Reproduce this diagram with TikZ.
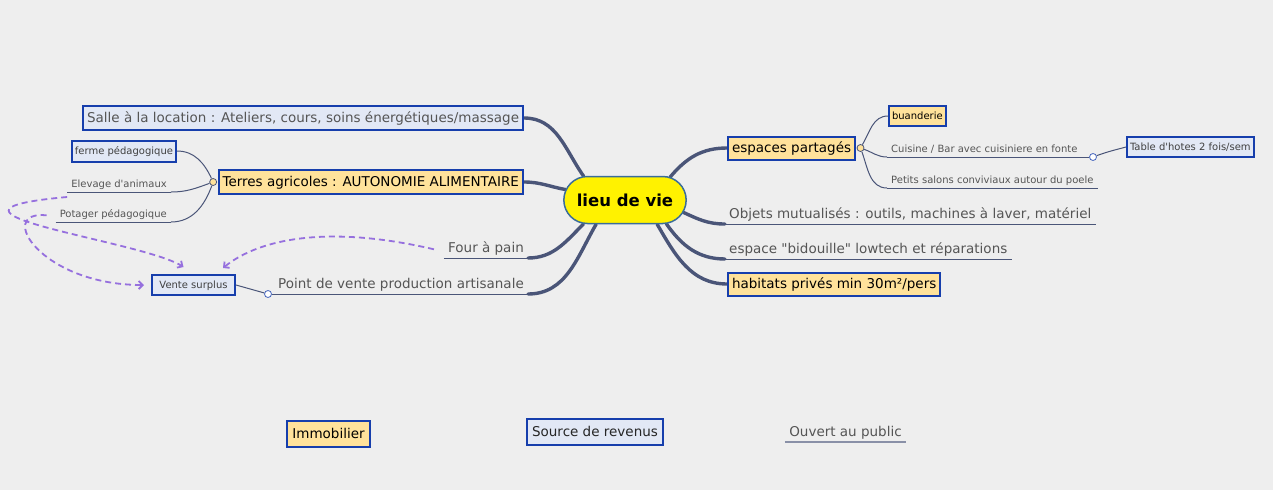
\documentclass[tikz,border=0pt]{standalone}
\usepackage{fontspec}
\usepackage{tikz}
\usetikzlibrary{positioning,shapes.misc,arrows.meta}
\newfontfamily\mapfont{DejaVu Sans}
\newcommand{\bigtxt}{\mapfont\fontsize{13.5}{15}\selectfont}
\newcommand{\smalltxt}{\mapfont\fontsize{10}{12}\selectfont}
\definecolor{bgcol}{RGB}{238,238,238}
\definecolor{branchcol}{RGB}{74,85,120}
\definecolor{boxblue}{RGB}{22,62,172}
\definecolor{revfill}{RGB}{226,232,245}
\definecolor{immofill}{RGB}{255,226,155}
\definecolor{topicgray}{RGB}{85,85,85}
\definecolor{linkpurple}{RGB}{150,112,222}
\definecolor{centreedge}{RGB}{58,109,154}
\pgfdeclarelayer{background}
\pgfsetlayers{background,main}
\tikzset{
  every node/.style={font=\mapfont},
  centre/.style={rounded rectangle, draw=centreedge, line width=1.5pt,
    fill=yellow, minimum width=129pt, minimum height=47pt,
    font=\mapfont\bfseries\fontsize{16.5}{20}\selectfont},
  revbox/.style={draw=boxblue, line width=2pt, fill=revfill,
    inner xsep=4pt, inner ysep=0pt, minimum height=24pt,
    text height=11pt, text depth=3pt, font=\bigtxt, text=topicgray},
  immobox/.style={revbox, fill=immofill, minimum height=23pt, text=black},
  smallbox/.style={minimum height=20pt, inner xsep=3pt,
    text height=8.5pt, text depth=2pt, font=\smalltxt},
  topic/.style={inner xsep=4pt, inner ysep=2pt, text height=10pt,
    text depth=3pt, font=\bigtxt, text=topicgray},
  subtopic/.style={inner xsep=4pt, inner ysep=2pt, text height=7pt,
    text depth=2pt, font=\smalltxt, text=topicgray},
  underline/.style={draw=branchcol, line width=1pt},
  branch/.style={draw=branchcol, line width=3.4pt, line cap=round},
  twig/.style={draw=branchcol, line width=1pt},
  knot/.style={circle, draw=branchcol, line width=0.8pt, fill=immofill,
    minimum size=7pt, inner sep=0pt},
  linkknot/.style={knot, draw=boxblue!80, fill=white},
  link/.style={draw=linkpurple, line width=1.8pt,
    dash pattern=on 6pt off 4pt,
    -{Straight Barb[length=4pt,width=8pt]}}
}

\begin{document}
\begin{tikzpicture}[x=1pt,y=1pt]
  \useasboundingbox (0,0) rectangle (1273,-490);
  % centre
  \node[centre] (vie) at (625,-200) {lieu de vie};
  % left side
  \node[revbox, anchor=east] (salle) at (524,-118)
    {Salle à la location : Ateliers, cours, soins énergétiques/massage};
  \node[immobox, anchor=east, minimum height=24pt] (terres) at (524,-182)
    {Terres agricoles : AUTONOMIE ALIMENTAIRE};
  \node[topic, anchor=south east] (four) at (528,-258) {Four à pain};
  \node[topic, anchor=south east] (pdv) at (528,-294)
    {Point de vente production artisanale};
  % right side
  \node[immobox, anchor=west] (espaces) at (727,-148) {espaces partagés};
  \node[topic, anchor=south west] (objets) at (725,-224)
    {Objets mutualisés : outils, machines à laver, matériel};
  \node[topic, anchor=south west] (bidouille) at (725,-259)
    {espace "bidouille" lowtech et réparations};
  \node[immobox, anchor=west] (habitats) at (727,-284)
    {habitats privés min 30m²/pers};
  % terres agricoles
  \node[knot, left=0.5pt of terres] (knotT) {};
  \node[revbox, smallbox, anchor=east, minimum height=21pt, text=black!75]
    (ferme) at (177,-151) {ferme pédagogique};
  \node[subtopic, anchor=south east] (elevage) at (171,-192)
    {Elevage d'animaux};
  \node[subtopic, anchor=south east] (potager) at (171,-222)
    {Potager pédagogique};
  % vente
  \node[linkknot] (knotP) at (268,-294) {};
  \node[revbox, smallbox, minimum width=83pt, text=black!75] (vente)
    at (193.5,-285) {Vente surplus};
  % espaces partages
  \node[knot, right=0.5pt of espaces] (knotE) {};
  \node[immobox, smallbox, anchor=west] (buand) at (888,-116) {buanderie};
  \node[subtopic, anchor=south west] (cuisine) at (887,-157)
    {Cuisine / Bar avec cuisiniere en fonte};
  \node[linkknot] (knotC) at (1093,-157) {};
  \node[revbox, smallbox, anchor=west, text=black!75] (table)
    at (1126,-147) {Table d'hotes 2 fois/sem};
  \node[subtopic, anchor=south west] (petits) at (887,-188)
    {Petits salons conviviaux autour du poele};
  % legend
  \node[immobox, minimum width=83pt, minimum height=26pt] (immo)
    at (328.5,-434) {Immobilier};
  \node[revbox, minimum width=136pt, minimum height=26pt, text=black!85]
    (revenus) at (595,-432) {Source de revenus};
  \node[topic, anchor=south, minimum width=121pt] (public)
    at (845.5,-442) {Ouvert au public};

  \begin{pgfonlayer}{background}
    \fill[bgcol] (0,0) rectangle (1273,-490);
    \draw[branch] (salle.east) to[out=0,in=125] (vie.150);
    \draw[branch] (terres.east) to[out=0,in=170] (vie.170);
    \draw[branch] (four.south east) to[out=0,in=225] (vie.210);
    \draw[branch] (pdv.south east) to[out=0,in=240] (vie.220);
    \draw[branch] (espaces.west) to[out=180,in=50] (vie.27);
    \draw[branch] (objets.south west) to[out=180,in=-25] (vie.-12);
    \draw[branch] (bidouille.south west) to[out=180,in=-55] (vie.-30);
    \draw[branch] (habitats.west) to[out=180,in=-60] (vie.-37);
  \end{pgfonlayer}

  % underlines
  \draw[underline] (four.south west) -- (four.south east);
  \draw[underline] (knotP) -- (pdv.south east);
  \draw[underline] (objets.south west) -- (objets.south east);
  \draw[underline] (bidouille.south west) -- (bidouille.south east);
  \draw[underline] (elevage.south west) -- (elevage.south east);
  \draw[underline] (potager.south west) -- (potager.south east);
  \draw[underline] (cuisine.south west) -- (knotC);
  \draw[underline] (petits.south west) -- (petits.south east);
  \draw[underline, draw=branchcol!65, line width=1.6pt]
    (public.south west) -- (public.south east);

  % twigs
  \draw[twig] (ferme.east) to[out=0,in=115] (knotT);
  \draw[twig] (elevage.south east) to[out=0,in=200] (knotT);
  \draw[twig] (potager.south east) to[out=0,in=250] (knotT);
  \draw[twig] (vente.east) -- (knotP);
  \draw[twig] (knotE) to[out=60,in=180] (buand.west);
  \draw[twig] (knotE) to[out=-20,in=180] (cuisine.south west);
  \draw[twig] (knotE) to[out=-70,in=180] (petits.south west);
  \draw[twig] (knotC) to[out=20,in=195] (table.west);

  % links
  \draw[link] ([xshift=-10pt]four.west) .. controls (330,-225) and (260,-238)
    .. ([xshift=-13pt,yshift=6pt]vente.north east);
  \draw[link] ([yshift=-5pt]elevage.south west) .. controls (-100,-212)
    and (140,-240) .. ([xshift=-10pt,yshift=7pt]vente.north);
  \draw[link] ([xshift=-9pt]potager.west) .. controls (-5,-210)
    and (40,-285) .. ([xshift=-7pt]vente.west);
\end{tikzpicture}
\end{document}
